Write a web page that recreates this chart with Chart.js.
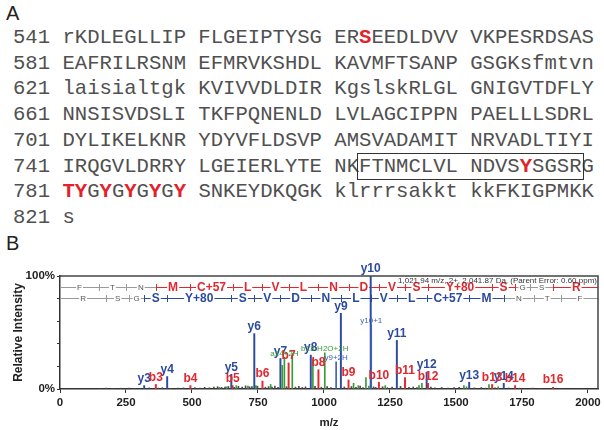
<!DOCTYPE html>
<html>
<head>
<meta charset="utf-8">
<script src="https://cdn.jsdelivr.net/npm/chart.js@4.4.0/dist/chart.umd.min.js"></script>
<style>
html,body{margin:0;padding:0;background:#fff;width:604px;height:430px;overflow:hidden}
#wrap{position:relative;width:604px;height:430px}
.plab{position:absolute;left:6px;font-family:"Liberation Sans",Arial,sans-serif;font-size:20px;color:#222;line-height:20px}
#seq{position:absolute;left:13px;top:25px;font-family:"Liberation Mono","Courier New",monospace;font-size:20.6px;line-height:25.7px;white-space:pre;color:#505050}
#seq b{color:#e3222a}
#seq .box{outline:1.5px solid #333;outline-offset:1px}
#spec{position:absolute;left:0;top:230px}
</style>
</head>
<body>
<div id="wrap">
  <div class="plab" style="top:3px">A</div>
  <div id="seq"></div>
  <div class="plab" style="top:233px">B</div>
  <canvas id="spec" width="604" height="200"></canvas>
</div>
<script>
// ===== 序列数据 (panel A) =====
const seqStarts = [541,581,621,661,701,741,781,821];
const seqLines = [
  "rKDLEGLLIPFLGEIPTYSGERSEEDLDVVVKPESRDSAS",
  "EAFRILRSNMEFMRVKSHDLKAVMFTSANPGSGKsfmtvn",
  "laisialtgkKVIVVDLDIRKgslskRLGLGNIGVTDFLY",
  "NNSISVDSLITKFPQNENLDLVLAGCIPPNPAELLLSDRL",
  "DYLIKELKNRYDYVFLDSVPAMSVADAMITNRVADLTIYI",
  "IRQGVLDRRYLGEIERLYTENKFTNMCLVLNDVSYSGSRG",
  "TYGYGYGYGYSNKEYDKQGKklrrrsakktkkFKIGPMKK",
  "s"
];
const redSites = [563,775,781,782,784,786,788,790];
const boxFrom = 763, boxTo = 779;

// ===== 谱图数据 (panel B) =====
const xTicks = [0,250,500,750,1000,1250,1500,1750,2000];
const yTicks = [0,20,40,60,80,100];
const parentInfo = "1,021.94 m/z, 2+, 2,041.87 Da, (Parent Error: 0.60 ppm)";

const yIonNames = ['y3','y4','y5','y6','y7','y8','y9','y10','y11','y12','y13','y14'];
const yIonMz    = [319,406,649,736,835,950,1064,1177,1276,1389,1550,1681];
const yIonInt   = [3,11,13,49,27,30,67,100,43,15,6,5];

const bIonNames = ['b3','b4','b5','b6','b7','b8','b9','b10','b11','b12','b13','b14','b16'];
const bIonMz    = [363,494,654,767,866,979,1093,1208,1307,1394,1637,1724,1868];
const bIonInt   = [4,3,3,7,23,17,8,6,10,5,4,3,1.5];

const extraNames = ['y10+1','y9+2H'];
const extraMz    = [1179,1046];
const extraInt   = [57,24];

const greenNames = ['','','','','','','','a14+2H','','','b13-H2O+2H','','','','','','','','','','',''];
const greenMz    = [604,631,668,712,742,798,842,850,880,958,1003,1112,1130,1159,1170,1232,1360,1371,1530,1540,1625,1660];
const greenInt   = [1.5,2,3,2.5,3,4,21,28,31,26,32,5,3,10,2.5,3,3,5,3,2,4,2];

const noiseMz  = [152,175,201,230,262,281,338,372,388,420,447,468,511,530,548,566,583,597,612,625,638,660,676,690,703,718,727,748,778,790,803,814,826,858,892,905,918,930,966,990,1012,1026,1077,1104,1121,1137,1148,1188,1196,1222,1240,1258,1290,1322,1338,1352,1405,1420,1446,1470,1493,1512,1570,1596,1612,1648,1700,1740,1790,1820,1900];
const noiseInt = [0.5,0.8,0.6,0.7,0.9,0.6,1,0.8,1.2,0.7,0.9,1,1.2,0.8,1.5,1.1,1.6,2,1.4,1.8,2.2,1.5,2.4,1.7,2.8,1.9,2.2,2.5,1.6,2.1,1.8,2.6,1.5,2,1.7,2.3,1.4,1.9,2.4,1.6,2.1,1.3,1.8,2.2,1.5,2.6,1.2,1.9,1.4,2,1.1,1.6,2.3,1.4,1.8,1.2,1.6,1.1,1.4,0.9,1.2,1.5,1,1.3,0.8,1.1,0.9,0.7,0.8,0.6,0.5];

// 肽段梯 (b / y ladder)
const peptide = ['F','T','N','M','C+57','L','V','L','N','D','V','S','Y+80','S','G','S','R'];
const bLadder = [0,148,249,363,494,654,767,866,979,1093,1208,1307,1394,1637,1724,1781,1868,2043];
const yLadder = [0,175,262,319,406,649,736,835,950,1064,1177,1276,1389,1550,1681,1795,1896,2043];
const bSeen   = [0,0,0,1,1,1,1,1,1,1,1,1,1,1,1,0,1,1];
const ySeen   = [0,0,0,1,1,1,1,1,1,1,1,1,1,1,1,0,0,0];

const RED = '#e0282e', BLUE = '#2c4b9f', GREEN = '#3a9a3a', GRAY = '#9a9a9a';
const SANS = '"Liberation Sans", Arial, sans-serif';

// ===== panel A =====
(function(){
  const el = document.getElementById('seq');
  let html = '';
  seqLines.forEach((line, r) => {
    let s = seqStarts[r] + ' ';
    for (let i = 0; i < line.length; i++) {
      const pos = seqStarts[r] + i;
      if (i > 0 && i % 10 === 0) s += ' ';
      if (pos === boxFrom) s += '<span class="box">';
      s += redSites.includes(pos) ? '<b>' + line[i] + '</b>' : line[i];
      if (pos === boxTo) s += '</span>';
    }
    html += s + (r < seqLines.length - 1 ? '\n' : '');
  });
  el.innerHTML = html;
})();

// ===== panel B =====
const pts = (mz, v) => mz.map((x, i) => ({x, y: v[i]}));

function textBox(ctx, txt, x, y, font, color){
  ctx.font = font;
  const w = ctx.measureText(txt).width;
  ctx.fillStyle = '#fff';
  ctx.fillRect(x - w/2 - 1, y - 5, w + 2, 10);
  ctx.fillStyle = color;
  ctx.fillText(txt, x, y);
}

const ladderPlugin = {
  id: 'ladder',
  beforeDatasetsDraw(chart){
    const {ctx, chartArea:a, scales:{x}} = chart;
    const rows = [
      {res: peptide, bounds: bLadder, seen: bSeen, col: RED, y: a.top + 11},
      {res: peptide.slice().reverse(), bounds: yLadder, seen: ySeen, col: BLUE, y: a.top + 22}
    ];
    ctx.save();
    ctx.textAlign = 'center'; ctx.textBaseline = 'middle';
    for (const r of rows) {
      const on = r.res.map((_, i) => r.seen[i] && r.seen[i+1]);
      // segments
      r.res.forEach((_, i) => {
        const x0 = x.getPixelForValue(r.bounds[i]);
        const x1 = Math.min(x.getPixelForValue(r.bounds[i+1]), a.right);
        ctx.strokeStyle = on[i] ? r.col : GRAY;
        ctx.lineWidth = 1;
        ctx.beginPath(); ctx.moveTo(x0, r.y + 0.5); ctx.lineTo(x1, r.y + 0.5); ctx.stroke();
      });
      // ticks
      for (let j = 1; j < r.bounds.length; j++) {
        const px = Math.round(x.getPixelForValue(r.bounds[j])) + 0.5;
        if (px > a.right) continue;
        ctx.strokeStyle = (on[j-1] || on[j]) ? r.col : GRAY;
        ctx.beginPath(); ctx.moveTo(px, r.y - 3); ctx.lineTo(px, r.y + 4); ctx.stroke();
      }
      // residues
      r.res.forEach((t, i) => {
        const cx = (x.getPixelForValue(r.bounds[i]) + x.getPixelForValue(r.bounds[i+1])) / 2;
        if (on[i]) textBox(ctx, t, cx, r.y + 1, 'bold 12px ' + SANS, r.col);
        else textBox(ctx, t, cx, r.y + 1, '8px ' + SANS, '#555');
      });
    }
    ctx.restore();
  }
};

const labelPlugin = {
  id: 'peakLabels',
  afterDatasetsDraw(chart){
    const {ctx, chartArea:a, scales:{x, y}} = chart;
    const floor = y.getPixelForValue(8);
    ctx.save();
    ctx.textAlign = 'center'; ctx.textBaseline = 'middle';
    const big = (names, mz, v, col) => {
      ctx.font = 'bold 12px ' + SANS; ctx.fillStyle = col;
      names.forEach((n, i) => {
        ctx.fillText(n, x.getPixelForValue(mz[i]), Math.min(y.getPixelForValue(v[i]) - 7, floor));
      });
    };
    big(yIonNames, yIonMz, yIonInt, BLUE);
    big(bIonNames, bIonMz, bIonInt, RED);
    ctx.font = '8px ' + SANS;
    greenNames.forEach((n, i) => {
      if (!n) return;
      ctx.fillStyle = GREEN;
      ctx.fillText(n, x.getPixelForValue(greenMz[i]), y.getPixelForValue(greenInt[i]) - 4);
    });
    extraNames.forEach((n, i) => {
      ctx.fillStyle = '#3f63b8';
      ctx.fillText(n, x.getPixelForValue(extraMz[i]), y.getPixelForValue(extraInt[i]) - 4);
    });
    // 母离子信息
    ctx.font = '8px ' + SANS; ctx.fillStyle = '#333'; ctx.textAlign = 'right';
    ctx.fillText(parentInfo, a.right - 1, a.top + 5);
    // 外框
    ctx.strokeStyle = '#444'; ctx.lineWidth = 1.5;
    ctx.beginPath();
    ctx.moveTo(a.left, a.top); ctx.lineTo(a.right, a.top); ctx.lineTo(a.right, a.bottom);
    ctx.stroke();
    ctx.restore();
  }
};

const bar = (lbl, data, col, w) => ({label: lbl, data, backgroundColor: col, barThickness: w, grouped: false});
const AXFONT = {family: SANS, size: 11.5, weight: 'bold'};

new Chart(document.getElementById('spec').getContext('2d'), {
  type: 'bar',
  data: {
    datasets: [
      bar('noise', pts(noiseMz, noiseInt), '#4a4a4a', 1),
      bar('other', pts(greenMz, greenInt), GREEN, 1),
      bar('extra', pts(extraMz, extraInt), '#3f63b8', 1),
      bar('b', pts(bIonMz, bIonInt), RED, 1.3),
      bar('y', pts(yIonMz, yIonInt), BLUE, 1.3)
    ]
  },
  options: {
    responsive: false, maintainAspectRatio: false, animation: false,
    layout: {padding: {top: 46, right: 6, left: 0, bottom: 0}},
    plugins: {legend: {display: false}, tooltip: {enabled: false}},
    scales: {
      x: {
        type: 'linear', min: 0, max: 2038, offset: false,
        afterBuildTicks: s => { s.ticks = xTicks.map(v => ({value: v})); },
        afterFit: s => { s.height = 41; },
        ticks: {color: '#222', font: AXFONT, padding: 3, maxRotation: 0, callback: v => String(v)},
        grid: {offset: false, drawOnChartArea: false, tickLength: 4, color: '#333'},
        border: {color: '#333', width: 1.5},
        title: {display: true, text: 'm/z', color: '#222', font: AXFONT, padding: {top: 5, bottom: 0}}
      },
      y: {
        min: 0, max: 100,
        afterBuildTicks: s => { s.ticks = yTicks.map(v => ({value: v})); },
        afterFit: s => { s.width = 60; },
        ticks: {color: '#222', font: AXFONT, padding: 2,
                callback: v => (v === 0 || v === 100) ? v + '%' : ''},
        grid: {drawOnChartArea: false, tickLength: 3, color: '#333'},
        border: {color: '#333', width: 1.5},
        title: {display: true, text: 'Relative Intensity', color: '#222', font: {family: SANS, size: 12, weight: 'bold'}, padding: {top: 11, bottom: 0}}
      }
    }
  },
  plugins: [ladderPlugin, labelPlugin]
});
</script>
</body>
</html>
